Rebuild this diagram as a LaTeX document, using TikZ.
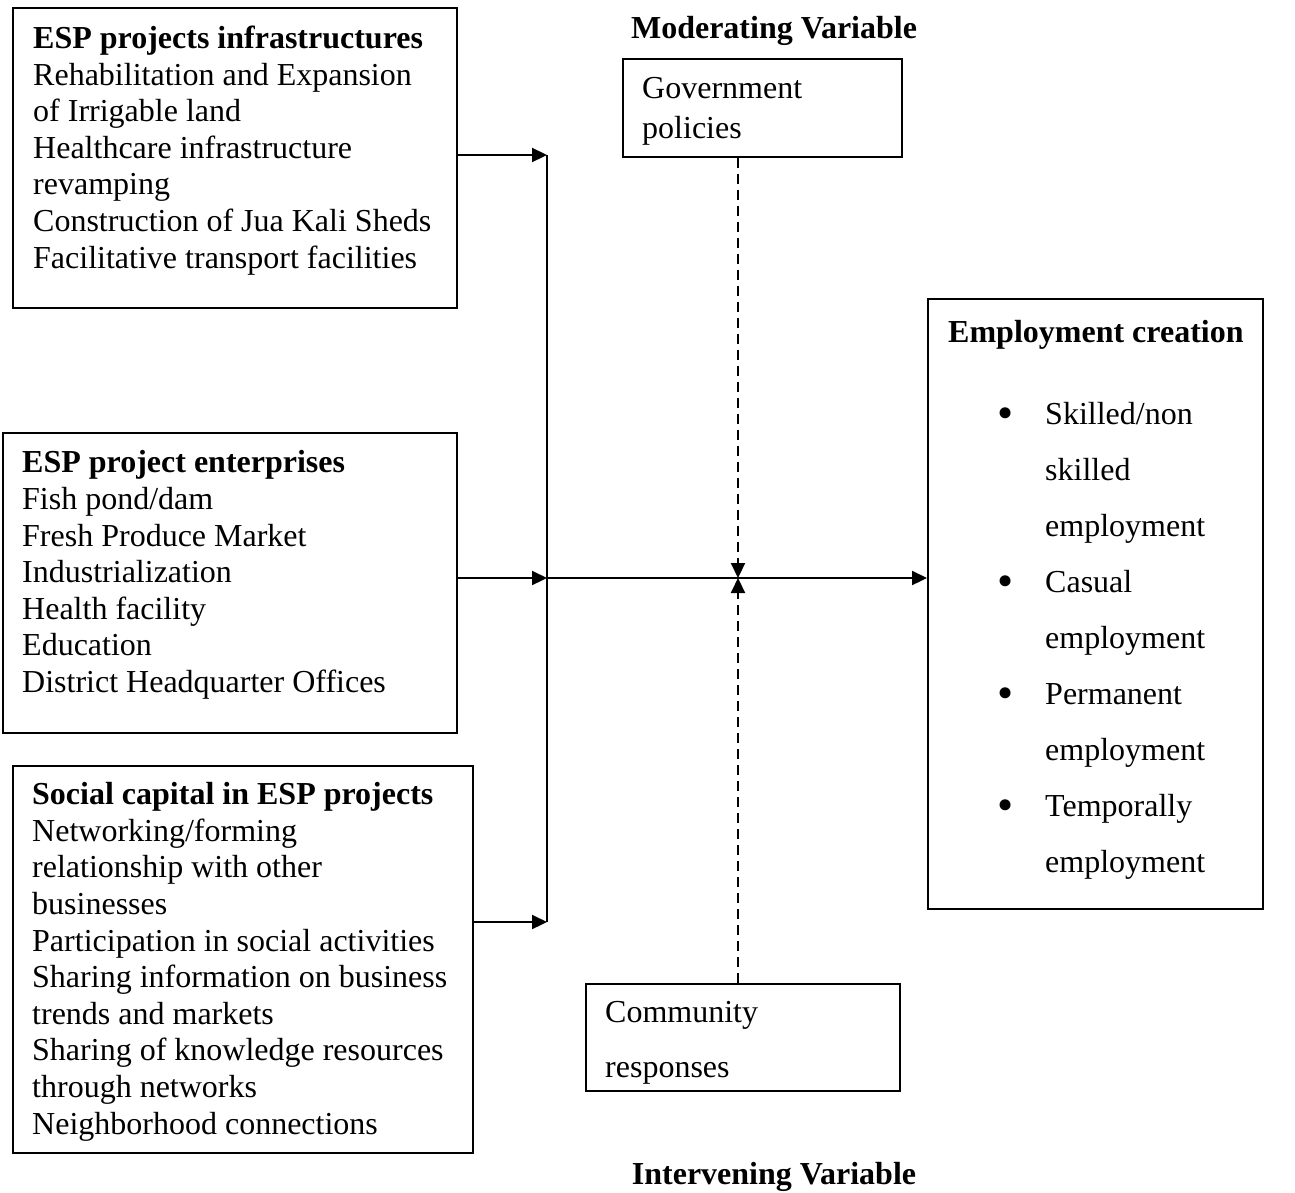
\documentclass[tikz,border=0pt]{standalone}
\usepackage{fontspec}
\setmainfont{Liberation Serif}
\usetikzlibrary{arrows.meta}
\tikzset{
  box/.style={draw, line width=1.6pt, inner sep=0pt, anchor=north west},
  txt/.style={anchor=base west, inner sep=0pt, align=left, font=\fontsize{32}{36.6}\selectfont},
  link/.style={line width=2.2pt, -{Triangle[length=15pt,width=14pt]}},
  dashlink/.style={link, dash pattern=on 10pt off 6pt},
  head/.style={anchor=base, inner sep=0pt, font=\fontsize{32}{36.6}\selectfont\bfseries}
}
\newcommand{\bul}{\makebox[48pt][l]{\raisebox{-4pt}{\fontsize{46}{46}\selectfont •}}}
\newcommand{\nobul}{\hspace*{48pt}}
\begin{document}
\begin{tikzpicture}[x=1pt,y=-1pt]
\useasboundingbox (0,0) rectangle (1295,1192);
% boxes
\node[box, minimum width=444pt, minimum height=300pt] (b1) at (12,7) {};
\node[box, minimum width=454pt, minimum height=300pt] (b2) at (2,432) {};
\node[box, minimum width=460pt, minimum height=387pt] (b3) at (12,765) {};
\node[box, minimum width=279pt, minimum height=98pt] (gov) at (622,58) {};
\node[box, minimum width=314pt, minimum height=107pt] (com) at (585,983) {};
\node[box, minimum width=335pt, minimum height=610pt] (emp) at (927,298) {};
% texts (anchored at the baseline of the last line)
\node[txt] (t1) at (33,268) {\textbf{ESP projects infrastructures}\\Rehabilitation and Expansion\\of Irrigable land\\Healthcare infrastructure\\revamping\\Construction of Jua Kali Sheds\\Facilitative transport facilities};
\node[txt] (t2) at (22,692.5) {\textbf{ESP project enterprises}\\Fish pond/dam\\Fresh Produce Market\\Industrialization\\Health facility\\Education\\District Headquarter Offices};
\node[txt] (t3) at (32,1134) {\textbf{Social capital in ESP projects}\\Networking/forming\\relationship with other\\businesses\\Participation in social activities\\Sharing information on business\\trends and markets\\Sharing of knowledge resources\\through networks\\Neighborhood connections};
\node[txt, font=\fontsize{32}{40}\selectfont] (tg) at (642,138) {Government\\policies};
\node[txt, font=\fontsize{32}{55}\selectfont] (tc) at (605,1077) {Community\\responses};
\node[head] (mod) at (774,38) {Moderating Variable};
\node[head] (int) at (774,1184) {Intervening Variable};
\node[txt, font=\fontsize{32}{36.6}\selectfont\bfseries] (te) at (948,342) {Employment creation};
\node[txt, font=\fontsize{32}{55.9}\selectfont] (tl) at (997,872) {\bul Skilled/non\\\nobul skilled\\\nobul employment\\\bul Casual\\\nobul employment\\\bul Permanent\\\nobul employment\\\bul Temporally\\\nobul employment};
% junctions
\coordinate (j1) at (547,155);
\coordinate (j2) at (547,578);
\coordinate (j3) at (547,922);
\coordinate (m) at (738,578);
% connectors
\draw[line width=2.2pt] (j1) -- (j3);
\draw[link] (j1 -| b1.east) -- (j1);
\draw[link] (j2 -| b2.east) -- (j2);
\draw[link] (j3 -| b3.east) -- (j3);
\draw[link] (j2) -- (j2 -| emp.west);
\draw[dashlink] (m |- gov.south) -- (m);
\draw[dashlink] (m |- com.north) -- (m);
\end{tikzpicture}
\end{document}
